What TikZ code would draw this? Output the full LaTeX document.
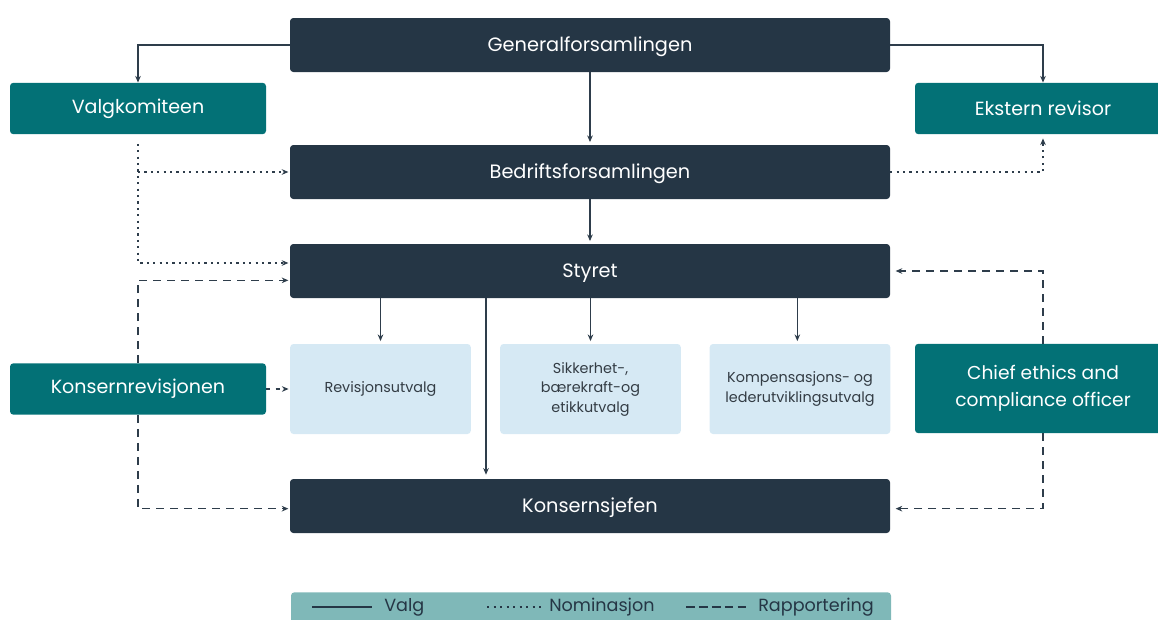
\documentclass[tikz,border=0pt]{standalone}
\usepackage{fontspec}
\setmainfont{Poppins}
\usetikzlibrary{arrows.meta}
\definecolor{navy}{HTML}{253645}
\definecolor{tealbox}{HTML}{037176}
\definecolor{lightbox}{HTML}{D6E9F4}
\definecolor{legendbg}{HTML}{7FB8B8}
\definecolor{linec}{HTML}{2E3D4B}
\definecolor{ctext}{HTML}{333C44}
\tikzset{
  darkbox/.style={rectangle, rounded corners=2.5pt, fill=navy, text=white, minimum width=450pt, minimum height=40.5pt, font=\fontsize{14.5}{16}\selectfont, inner sep=0pt, text height=13.5pt, text depth=3.5pt},
  tealnode/.style={rectangle, rounded corners=2.5pt, fill=tealbox, text=white, minimum width=192pt, minimum height=38.5pt, font=\fontsize{14.3}{16}\selectfont, inner sep=0pt},
  combox/.style={rectangle, rounded corners=2.5pt, fill=lightbox, text=ctext, minimum width=135.5pt, minimum height=67.5pt, font=\fontsize{10.8}{14.6}\selectfont, align=center, inner sep=0pt},
  tip/.style={-{Stealth[length=5pt,width=4.2pt]}},
  valg/.style={draw=linec, line width=0.9pt, tip},
  nom/.style={draw=linec, line width=1.7pt, dash pattern=on 1.6pt off 3.2pt, tip},
  rapp/.style={draw=linec, line width=0.9pt, dash pattern=on 6pt off 4.5pt, tip},
  legtext/.style={text=navy, font=\fontsize{13.2}{15}\selectfont, inner sep=0pt, anchor=west}
}
\begin{document}
\begin{tikzpicture}[x=0.75pt,y=-0.75pt]
\useasboundingbox (0,0) rectangle (1158,619);
\begin{scope}
\clip (0,0) rectangle (1158,619);
% main nodes
\node[darkbox] (GF) at (590,45) {Generalforsamlingen};
\node[darkbox] (BF) at (590,172) {Bedriftsforsamlingen};
\node[darkbox] (ST) at (590,271) {Styret};
\node[darkbox] (KS) at (590,506) {Konsernsjefen};
\node[tealnode] (VK) at (138,108.5) {Valgkomiteen};
\node[tealnode] (ER) at (1043,108.5) {Ekstern revisor};
\node[tealnode] (KR) at (138,389) {Konsernrevisjonen};
\node[tealnode, minimum height=67pt, align=center, font=\fontsize{14}{20}\selectfont] (CE) at (1043,388.5) {Chief ethics and\\compliance officer};
\node[combox] (RU) at (380.5,389) {Revisjonsutvalg};
\node[combox] (SB) at (590.5,389) {Sikkerhet-,\\bærekraft-og\\etikkutvalg};
\node[combox] (KU) at (800,389) {Kompensasjons- og\\lederutviklingsutvalg};
% legend
\node[rectangle, rounded corners=2.5pt, fill=legendbg, minimum width=450pt, minimum height=28pt, inner sep=0pt] (LG) at (591,611) {};
\coordinate (L1a) at (312,607);
\coordinate (L1b) at (372,607);
\coordinate (L2a) at (487,607);
\coordinate (L2b) at (545,607);
\coordinate (L3a) at (686,607);
\coordinate (L3b) at (750,607);
\draw[draw=navy, line width=1.6pt] (L1a) -- (L1b);
\draw[draw=navy, line width=1.6pt, dash pattern=on 1.6pt off 3.3pt] (L2a) -- (L2b);
\draw[draw=navy, line width=1.6pt, dash pattern=on 6.5pt off 3.2pt] (L3a) -- (L3b);
\node[legtext] (T1) at (384,607) {Valg};
\node[legtext] (T2) at (549,607) {Nominasjon};
\node[legtext] (T3) at (758,607) {Rapportering};
% Valg connectors
\draw[valg] (GF.west) -| (VK.north);
\draw[valg] (GF.east) -| (ER.north);
\draw[valg, shorten >=2pt] (GF.south) -- (BF.north);
\draw[valg, shorten >=2pt] (BF.south) -- (ST.north);
\draw[valg, shorten >=2pt] (RU.north |- ST.south) -- (RU.north);
\draw[valg, shorten >=2pt] (SB.north |- ST.south) -- (SB.north);
\draw[valg, shorten >=2pt] ([xshift=-2pt]KU.north |- ST.south) -- ([xshift=-2pt]KU.north);
\draw[valg, shorten >=3pt] ([xshift=-78pt]ST.south) -- ([xshift=-78pt]KS.north);
% Nominasjon connectors
\draw[nom, shorten >=1pt] ([yshift=-7pt]VK.south) |- ([yshift=6pt]ST.west);
\draw[nom, shorten >=1pt] (VK.south |- BF.west) -- (BF.west);
\draw[nom, shorten >=3pt] (BF.east) -| (ER.south);
% Rapportering connectors
\draw[rapp, shorten >=1pt] (KR.north) |- ([yshift=-7pt]ST.west);
\draw[rapp, shorten >=1pt] (KR.south) |- ([yshift=-2pt]KS.west);
\draw[rapp, shorten >=1pt, dash pattern=on 3pt off 4pt] (KR.east) -- (RU.west);
\draw[rapp, shorten >=4pt] (CE.north) |- (ST.east);
\draw[rapp, shorten >=4pt] (CE.south) |- ([yshift=-2pt]KS.east);
\end{scope}
\end{tikzpicture}
\end{document}
